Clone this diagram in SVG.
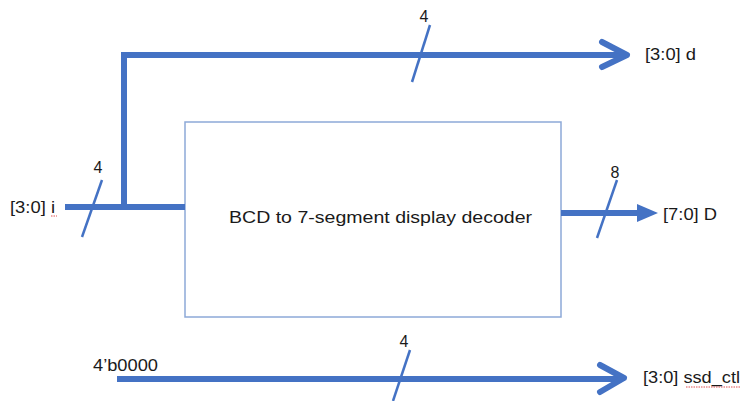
<svg xmlns="http://www.w3.org/2000/svg" width="742" height="401" viewBox="0 0 742 401">
<style>
.bus{stroke:#4472C4;stroke-width:6;fill:none}
.slash{stroke:#4472C4;stroke-width:2.5;fill:none}
.chev{stroke:#4472C4;stroke-width:6;fill:none;stroke-linecap:round;stroke-linejoin:round}
.t{font-family:"Liberation Sans",Arial,sans-serif;font-size:16px;fill:#1a1a1a}
.spell{stroke:#e05050;stroke-width:1;stroke-dasharray:1.5 1;fill:none}
</style>
<rect width="742" height="401" fill="#ffffff"/>
<g id="decoder">
<rect x="185" y="122" width="376" height="195" fill="#ffffff" stroke="#8da9d8" stroke-width="1.5"/>
<text class="t" x="229" y="223" font-size="18.5" textLength="303" lengthAdjust="spacingAndGlyphs">BCD to 7-segment display decoder</text>
</g>
<g id="connectors">
<path class="bus" d="M65,207 H185 M124,207 V55 H624"/>
<path class="chev" d="M602,42 L627,55 L602,67"/>
<path class="bus" d="M561,213 H640" stroke-width="5"/>
<polygon points="637,204 658,213 637,222" fill="#4472C4"/>
<path class="bus" d="M117,379 H621"/>
<path class="chev" d="M600,365 L624,378 L600,392"/>
<path class="slash" d="M430,25 L412,82"/>
<path class="slash" d="M102,180 L82,237"/>
<path class="slash" d="M617,180 L597,238"/>
<path class="slash" d="M410,350 L393,401"/>
</g>
<g id="labels">
<text class="t" x="10" y="213" textLength="45" lengthAdjust="spacingAndGlyphs">[3:0] i</text>
<path class="spell" d="M51,216 H57"/>
<text class="t" x="98" y="173" text-anchor="middle">4</text>
<text class="t" x="424" y="22" text-anchor="middle">4</text>
<text class="t" x="645" y="60" textLength="51" lengthAdjust="spacingAndGlyphs">[3:0] d</text>
<text class="t" x="615" y="178" text-anchor="middle">8</text>
<text class="t" x="663" y="220" textLength="54" lengthAdjust="spacingAndGlyphs">[7:0] D</text>
<text class="t" x="93" y="371" textLength="65" lengthAdjust="spacingAndGlyphs">4’b0000</text>
<text class="t" x="404" y="347" text-anchor="middle">4</text>
<text class="t" x="643" y="383" textLength="97" lengthAdjust="spacingAndGlyphs">[3:0] ssd_ctl</text>
<path class="spell" d="M686,387 H740"/>
</g>
</svg>
